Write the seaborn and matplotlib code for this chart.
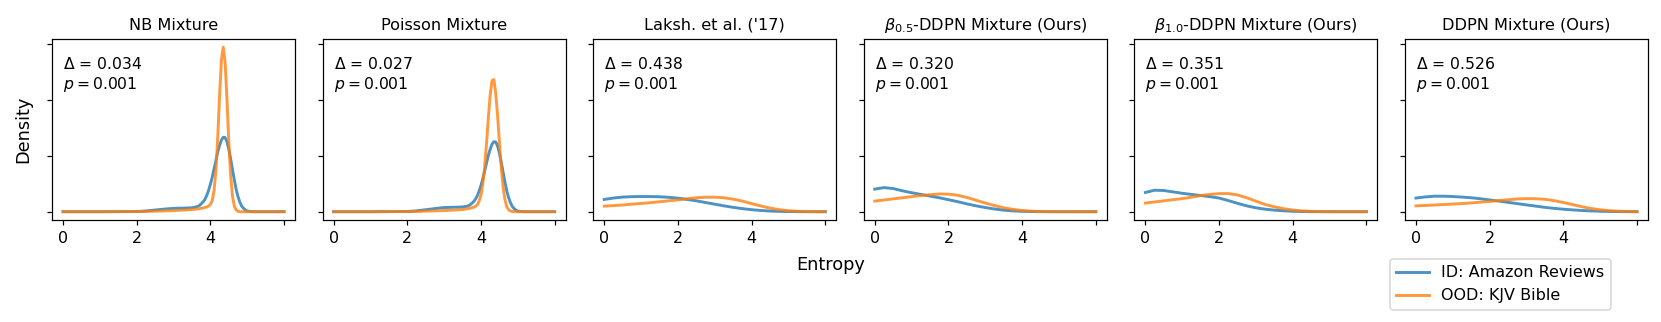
import numpy as np
import pandas as pd
import seaborn as sns
import matplotlib
matplotlib.use('Agg')
import matplotlib.pyplot as plt

# panel titles and test statistics
titles = ['NB Mixture', 'Poisson Mixture', "Laksh. et al. ('17)",
          r'$\beta_{0.5}$-DDPN Mixture (Ours)', r'$\beta_{1.0}$-DDPN Mixture (Ours)',
          'DDPN Mixture (Ours)']
deltas = [0.034, 0.027, 0.438, 0.320, 0.351, 0.526]
pvals = [0.001, 0.001, 0.001, 0.001, 0.001, 0.001]
groups = ['ID: Amazon Reviews', 'OOD: KJV Bible']

# entropy grid for the two peaked panels
x_peak = [0, 1, 2, 2.2, 2.5, 2.8, 3.0, 3.3, 3.5, 3.6, 3.65,
          3.7, 3.75, 3.8, 3.85, 3.9, 3.95, 4.0, 4.05, 4.1, 4.15, 4.2, 4.25, 4.3, 4.35,
          4.4, 4.45, 4.5, 4.55, 4.6, 4.65, 4.7, 4.75, 4.8, 4.85, 4.9, 4.95, 5.0,
          5.1, 5.2, 5.5, 6]
# entropy grid for the broad panels
x_broad = [0, 0.25, 0.5, 0.75, 1.0, 1.25, 1.5, 1.75, 2.0, 2.25, 2.5, 2.75, 3.0,
           3.25, 3.5, 3.75, 4.0, 4.25, 4.5, 4.75, 5.0, 5.25, 5.5, 5.75, 6.0]

# densities (ID, OOD)
nb_id = [0, 0, 0.003, 0.01, 0.03, 0.05, 0.06, 0.065, 0.07, 0.085, 0.095,
         0.11, 0.14, 0.175, 0.22, 0.29, 0.38, 0.49, 0.62, 0.77, 0.92, 1.07, 1.19, 1.285, 1.335,
         1.33, 1.257, 1.12, 0.95, 0.755, 0.57, 0.40, 0.27, 0.17, 0.10, 0.06, 0.03, 0.012,
         0.003, 0, 0, 0]
nb_ood = [0, 0, 0.003, 0.005, 0.01, 0.015, 0.02, 0.03, 0.04, 0.045, 0.05,
          0.055, 0.06, 0.065, 0.075, 0.085, 0.10, 0.13, 0.20, 0.38, 0.74, 1.34, 2.08, 2.72, 2.95,
          2.68, 2.02, 1.26, 0.65, 0.28, 0.10, 0.03, 0.007, 0, 0, 0, 0, 0,
          0, 0, 0, 0]
pois_id = [0, 0, 0.004, 0.012, 0.035, 0.06, 0.075, 0.08, 0.085, 0.095, 0.105,
           0.12, 0.15, 0.18, 0.225, 0.285, 0.37, 0.47, 0.59, 0.73, 0.87, 1.01, 1.12, 1.21, 1.255,
           1.25, 1.18, 1.05, 0.89, 0.71, 0.535, 0.375, 0.255, 0.16, 0.095, 0.055, 0.028, 0.011,
           0.003, 0, 0, 0]
pois_ood = [0, 0, 0.003, 0.005, 0.01, 0.015, 0.02, 0.03, 0.04, 0.05, 0.055,
            0.06, 0.07, 0.08, 0.095, 0.125, 0.19, 0.30, 0.50, 0.80, 1.22, 1.68, 2.09, 2.35, 2.37,
            2.13, 1.73, 1.25, 0.80, 0.45, 0.22, 0.09, 0.035, 0.012, 0.004, 0, 0, 0,
            0, 0, 0, 0]
laksh_id = [0.22, 0.245, 0.262, 0.27, 0.272, 0.272, 0.268, 0.258, 0.243, 0.22, 0.195, 0.165,
            0.135, 0.105, 0.078, 0.055, 0.036, 0.022, 0.012, 0.006, 0.003, 0.001, 0, 0, 0]
laksh_ood = [0.10, 0.11, 0.12, 0.135, 0.148, 0.162, 0.178, 0.195, 0.212, 0.232, 0.25, 0.26,
             0.26, 0.25, 0.225, 0.19, 0.145, 0.103, 0.065, 0.037, 0.018, 0.008, 0.003, 0.001, 0]
b05_id = [0.405, 0.432, 0.415, 0.375, 0.34, 0.31, 0.28, 0.25, 0.215, 0.18, 0.14, 0.105,
          0.075, 0.048, 0.028, 0.015, 0.007, 0.003, 0.001, 0, 0, 0, 0, 0, 0]
b05_ood = [0.19, 0.21, 0.23, 0.25, 0.27, 0.29, 0.305, 0.318, 0.315, 0.295, 0.255, 0.205,
           0.155, 0.11, 0.07, 0.042, 0.022, 0.01, 0.004, 0.001, 0, 0, 0, 0, 0]
b10_id = [0.345, 0.385, 0.38, 0.355, 0.33, 0.31, 0.29, 0.27, 0.245, 0.2, 0.15, 0.105,
          0.07, 0.045, 0.028, 0.016, 0.008, 0.003, 0.001, 0, 0, 0, 0, 0, 0]
b10_ood = [0.155, 0.175, 0.195, 0.215, 0.235, 0.26, 0.29, 0.31, 0.325, 0.325, 0.30, 0.25,
           0.19, 0.13, 0.088, 0.055, 0.03, 0.015, 0.007, 0.003, 0.001, 0, 0, 0, 0]
ddpn_id = [0.245, 0.265, 0.278, 0.278, 0.272, 0.262, 0.25, 0.232, 0.21, 0.19, 0.168, 0.145,
           0.122, 0.1, 0.078, 0.06, 0.045, 0.032, 0.022, 0.014, 0.008, 0.004, 0.002, 0.001, 0]
ddpn_ood = [0.105, 0.112, 0.12, 0.128, 0.137, 0.146, 0.157, 0.17, 0.185, 0.2, 0.215, 0.228,
            0.235, 0.233, 0.222, 0.198, 0.165, 0.127, 0.09, 0.058, 0.034, 0.018, 0.009, 0.004, 0.002]

panels = [(x_peak, nb_id, nb_ood), (x_peak, pois_id, pois_ood), (x_broad, laksh_id, laksh_ood),
          (x_broad, b05_id, b05_ood), (x_broad, b10_id, b10_ood), (x_broad, ddpn_id, ddpn_ood)]

rows = []
for k, (xs, d_id, d_ood) in enumerate(panels):
    for x, a, b in zip(xs, d_id, d_ood):
        rows.append((k, x, a, groups[0]))
        rows.append((k, x, b, groups[1]))
df = pd.DataFrame(rows, columns=['panel', 'entropy', 'density', 'group'])

palette = {groups[0]: '#1f77b4', groups[1]: '#ff7f0e'}

# figure is 1661x322 px
fig, axes = plt.subplots(1, 6, figsize=(1661 / 110, 322 / 110), dpi=110, sharey=True)
plt.subplots_adjust(left=0.0313, right=0.9922, top=0.879, bottom=0.317, wspace=0.113)

for k, ax in enumerate(axes):
    sub = df[df['panel'] == k]
    sns.lineplot(data=sub, x='entropy', y='density', hue='group', palette=palette,
                 alpha=0.8, linewidth=1.9, legend=False, ax=ax)
    ax.set_title(titles[k], fontsize=10.6)
    ax.set_xlabel('')
    ax.set_ylabel('')
    ax.set_xticks([0, 2, 4, 6])
    ax.set_xticklabels(['0', '2', '4', ''])
    ax.tick_params(labelsize=10.5)
    ax.set_yticks([0, 1, 2, 3])
    ax.set_yticklabels([])
    ax.text(0.045, 0.905, '$\\Delta$ = %.3f\n$p = %.3f$' % (deltas[k], pvals[k]),
            transform=ax.transAxes, ha='left', va='top', fontsize=10.2)

axes[0].set_ylabel('Density', fontsize=11.6, labelpad=6)
fig.text(0.5, 0.177, 'Entropy', ha='center', va='center', fontsize=11.6)

handles = [plt.Line2D([], [], color=palette[g], alpha=0.8, lw=1.9) for g in groups]
axes[-1].legend(handles, groups, loc='upper center', bbox_to_anchor=(0.393, -0.17),
                fontsize=10.5)

plt.savefig('out.png', dpi=110)
plt.close()
